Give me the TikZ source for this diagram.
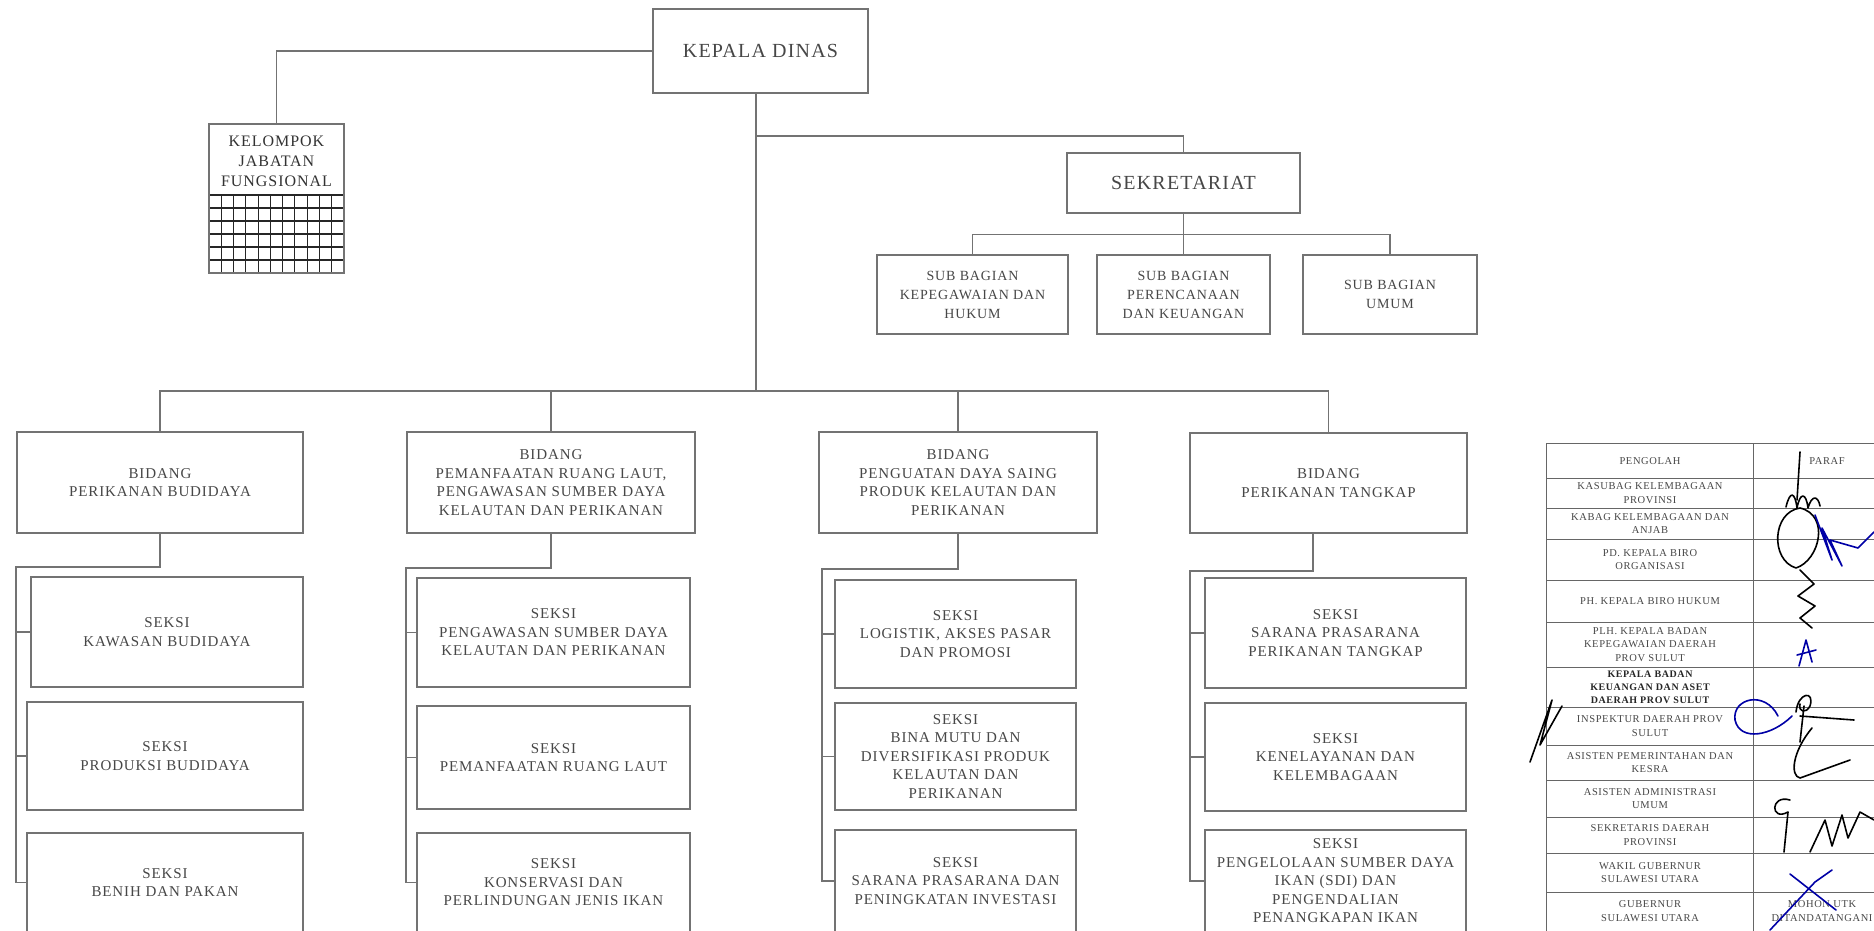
\documentclass[tikz,border=0pt]{standalone}
\usepackage{fontspec}
\setmainfont{Liberation Serif}
\newfontfamily\boxfont{Liberation Serif}[LetterSpace=6]
\newfontfamily\tabfont{Liberation Serif}[LetterSpace=6]
\begin{document}
\begin{tikzpicture}[x=1pt,y=-1pt,
 ln/.style={draw=black!55, line width=1.5pt},
 bx/.style={draw=black!55, line width=1.5pt, inner sep=0pt, align=center, text=black!72, font=\boxfont\fontsize{15}{18.5}\selectfont},
 bigtxt/.style={font=\boxfont\fontsize{20}{24}\selectfont},
 subtxt/.style={font=\boxfont\fontsize{14}{19}\selectfont},
 kjftxt/.style={inner sep=0pt, align=center, text=black!80, font=\boxfont\fontsize{16}{20}\selectfont},
 tl/.style={draw=black!60, line width=1pt},
 tt/.style={inner sep=0pt, align=center, text=black!72, font=\tabfont\fontsize{10.5}{13.5}\selectfont},
 ttb/.style={tt, text=black!85, font=\tabfont\bfseries\fontsize{10}{13}\selectfont},
 gl/.style={draw=black!85, line width=1.1pt},
 sigk/.style={draw=black, line width=1.6pt, line cap=round, line join=round},
 sigb/.style={draw=blue!65!black, line width=1.6pt, line cap=round, line join=round},
]
\useasboundingbox (0,0) rectangle (1874,930);
\clip (0,0) rectangle (1874,930);
\fill[white] (0,0) rectangle (1874,930);

% ---------- top level ----------
\node[bx, bigtxt, minimum width=215pt, minimum height=84pt] (kd) at (760.5,51) {KEPALA DINAS};

% Kelompok jabatan fungsional
\foreach \i in {1,...,10} {\draw[gl] ({209+12.27*\i},195) -- ({209+12.27*\i},273);}
\foreach \j in {0,...,5} {\draw[gl] (209,{195+13*\j}) -- (344,{195+13*\j});}
\node[bx, minimum width=135pt, minimum height=149pt] (kjf) at (276.5,198.5) {};
\node[kjftxt] (kjft) at (276.5,161.5) {KELOMPOK\\JABATAN\\FUNGSIONAL};
\draw[ln] (kd.west) -| (kjf.north);

% Sekretariat
\node[bx, bigtxt, minimum width=233pt, minimum height=60pt] (sek) at (1183.5,183) {SEKRETARIAT};
\node[bx, subtxt, minimum width=191pt, minimum height=79pt] (sb1) at (972.5,294.5) {SUB BAGIAN\\KEPEGAWAIAN DAN\\HUKUM};
\node[bx, subtxt, minimum width=173pt, minimum height=79pt] (sb2) at (1183.5,294.5) {SUB BAGIAN\\PERENCANAAN\\DAN KEUANGAN};
\node[bx, subtxt, minimum width=174pt, minimum height=79pt] (sb3) at (1390,294.5) {SUB BAGIAN\\UMUM};

\coordinate (tr) at (756,136);
\coordinate (bus) at (756,391);
\draw[ln] (kd.south -| tr) -- (bus);
\draw[ln] (tr) -| (sek.north);
\draw[ln] (sek.south) -- (sb2.north);
\draw[ln] (sb1.north) -- ++(0,-20) -| (sb3.north);

% ---------- bidang ----------
\node[bx, minimum width=286pt, minimum height=101pt] (b1) at (160,482.5) {BIDANG\\PERIKANAN BUDIDAYA};
\node[bx, minimum width=288pt, minimum height=101pt] (b2) at (551,482.5) {BIDANG\\PEMANFAATAN RUANG LAUT,\\PENGAWASAN SUMBER DAYA\\KELAUTAN DAN PERIKANAN};
\node[bx, minimum width=278pt, minimum height=101pt] (b3) at (958,482.5) {BIDANG\\PENGUATAN DAYA SAING\\PRODUK KELAUTAN DAN\\PERIKANAN};
\node[bx, minimum width=277pt, minimum height=100pt] (b4) at (1328.5,483) {BIDANG\\PERIKANAN TANGKAP};

\draw[ln] (b1.north) -- (b1.north |- bus) -| (b4.north);
\draw[ln] (b2.north) -- (b2.north |- bus);
\draw[ln] (b3.north) -- (b3.north |- bus);

% ---------- seksi column 1 ----------
\node[bx, minimum width=272pt, minimum height=110pt] (s11) at (167,632) {SEKSI\\KAWASAN BUDIDAYA};
\node[bx, minimum width=276pt, minimum height=108pt] (s12) at (165,756) {SEKSI\\PRODUKSI BUDIDAYA};
\node[bx, minimum width=276pt, minimum height=99pt] (s13) at (165,882.5) {SEKSI\\BENIH DAN PAKAN};
\coordinate (c1) at (16,567);
\draw[ln] (b1.south) |- (c1) |- (s13.west);
\draw[ln] (c1 |- s11.west) -- (s11.west);
\draw[ln] (c1 |- s12.west) -- (s12.west);

% ---------- seksi column 2 ----------
\node[bx, minimum width=273pt, minimum height=109pt] (s21) at (553.5,632.5) {SEKSI\\PENGAWASAN SUMBER DAYA\\KELAUTAN DAN PERIKANAN};
\node[bx, minimum width=273pt, minimum height=103pt] (s22) at (553.5,757.5) {SEKSI\\PEMANFAATAN RUANG LAUT};
\node[bx, minimum width=273pt, minimum height=99pt] (s23) at (553.5,882.5) {SEKSI\\KONSERVASI DAN\\PERLINDUNGAN JENIS IKAN};
\coordinate (c2) at (406,568);
\draw[ln] (b2.south) |- (c2) |- (s23.west);
\draw[ln] (c2 |- s21.west) -- (s21.west);
\draw[ln] (c2 |- s22.west) -- (s22.west);

% ---------- seksi column 3 ----------
\node[bx, minimum width=241pt, minimum height=108pt] (s31) at (955.5,634) {SEKSI\\LOGISTIK, AKSES PASAR\\DAN PROMOSI};
\node[bx, minimum width=241pt, minimum height=107pt] (s32) at (955.5,756.5) {SEKSI\\BINA MUTU DAN\\DIVERSIFIKASI PRODUK\\KELAUTAN DAN\\PERIKANAN};
\node[bx, minimum width=241pt, minimum height=102pt] (s33) at (955.5,881) {SEKSI\\SARANA PRASARANA DAN\\PENINGKATAN INVESTASI};
\coordinate (c3) at (822,569);
\draw[ln] (b3.south) |- (c3) |- (s33.west);
\draw[ln] (c3 |- s31.west) -- (s31.west);
\draw[ln] (c3 |- s32.west) -- (s32.west);

% ---------- seksi column 4 ----------
\node[bx, minimum width=261pt, minimum height=110pt] (s41) at (1335.5,633) {SEKSI\\SARANA PRASARANA\\PERIKANAN TANGKAP};
\node[bx, minimum width=261pt, minimum height=108pt] (s42) at (1335.5,757) {SEKSI\\KENELAYANAN DAN\\KELEMBAGAAN};
\node[bx, minimum width=261pt, minimum height=102pt] (s43) at (1335.5,881) {SEKSI\\PENGELOLAAN SUMBER DAYA\\IKAN (SDI) DAN\\PENGENDALIAN\\PENANGKAPAN IKAN};
\coordinate (d4) at (1313,533);
\coordinate (c4) at (1190,571);
\draw[ln] (d4) |- (c4) |- (s43.west);
\draw[ln] (c4 |- s41.west) -- (s41.west);
\draw[ln] (c4 |- s42.west) -- (s42.west);

% ---------- paraf table ----------
\draw[tl] (1546,443) rectangle (1905,940);
\draw[tl] (1753,443) -- (1753,940);
\foreach \y in {478,508,539,580,622,667,707,745,780,817,853,892} {\draw[tl] (1546,\y) -- (1905,\y);}
\node[tt] (t0) at (1650,461) {PENGOLAH};
\node[tt] (t0b) at (1827,461) {PARAF};
\node[tt] (t1) at (1650,493) {KASUBAG KELEMBAGAAN\\PROVINSI};
\node[tt] (t2) at (1650,523.5) {KABAG KELEMBAGAAN DAN\\ANJAB};
\node[tt] (t3) at (1650,559.5) {PD. KEPALA BIRO\\ORGANISASI};
\node[tt] (t4) at (1650,601) {PH. KEPALA BIRO HUKUM};
\node[tt] (t5) at (1650,644.5) {PLH. KEPALA BADAN\\KEPEGAWAIAN DAERAH\\PROV SULUT};
\node[ttb] (t6) at (1650,687) {KEPALA BADAN\\KEUANGAN DAN ASET\\DAERAH PROV SULUT};
\node[tt] (t7) at (1650,726) {INSPEKTUR DAERAH PROV\\SULUT};
\node[tt] (t8) at (1650,762.5) {ASISTEN PEMERINTAHAN DAN\\KESRA};
\node[tt] (t9) at (1650,798.5) {ASISTEN ADMINISTRASI\\UMUM};
\node[tt] (t10) at (1650,835) {SEKRETARIS DAERAH\\PROVINSI};
\node[tt] (t11) at (1650,872.5) {WAKIL GUBERNUR\\SULAWESI UTARA};
\node[tt] (t12) at (1650,911) {GUBERNUR\\SULAWESI UTARA};
\node[tt] (t12b) at (1822,911) {MOHON UTK\\DITANDATANGANI};

% ---------- signatures ----------
\draw[sigk] (1800,452) -- (1797,500);
\draw[sigk] (1786,507) .. controls (1790,490) and (1795,492) .. (1797,508) .. controls (1800,492) and (1806,492) .. (1808,508) .. controls (1812,494) and (1818,496) .. (1820,506);
\draw[sigk] (1800,508) .. controls (1772,512) and (1770,560) .. (1796,568) .. controls (1820,560) and (1830,515) .. (1800,508);
\draw[sigb] (1815,515) -- (1832,560) -- (1822,528) -- (1842,566) -- (1830,540) -- (1858,548) -- (1874,532);
\draw[sigk] (1800,570) -- (1814,584) -- (1798,596) -- (1815,606) -- (1800,618) -- (1812,628);
\draw[sigb] (1799,666) -- (1806,640) -- (1812,662);
\draw[sigb] (1797,655) -- (1816,650);
\draw[sigb] (1778,716) .. controls (1765,690) and (1732,698) .. (1735,720) .. controls (1740,742) and (1772,736) .. (1792,716);
\draw[sigk] (1796,712) .. controls (1798,692) and (1815,690) .. (1810,706) .. controls (1806,714) and (1798,712) .. (1800,704);
\draw[sigk] (1800,716) -- (1854,720);
\draw[sigk] (1804,706) -- (1800,742);
\draw[sigk] (1812,728) .. controls (1792,752) and (1790,776) .. (1800,778) -- (1850,760);
\draw[sigk] (1790,800) .. controls (1770,794) and (1770,822) .. (1788,812) -- (1784,852);
\draw[sigk] (1810,852) -- (1825,820) -- (1832,846) -- (1842,815) -- (1848,838) -- (1860,812) -- (1874,820);
\draw[sigb] (1770,930) -- (1815,882) -- (1832,870);
\draw[sigb] (1790,874) -- (1836,910);
\draw[sigk] (1530,762) -- (1552,700) -- (1540,745) -- (1562,706);
\end{tikzpicture}
\end{document}
